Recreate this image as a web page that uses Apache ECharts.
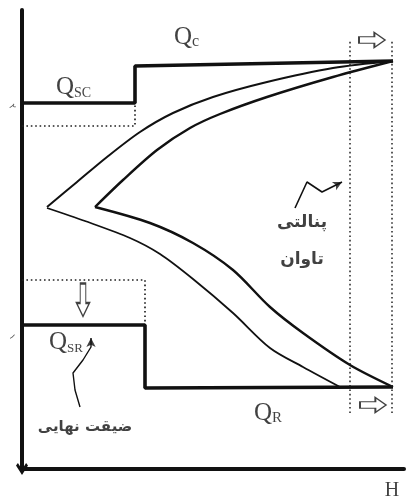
<!DOCTYPE html>
<html>
<head>
<meta charset="utf-8">
<script src="https://cdn.jsdelivr.net/npm/echarts@6/dist/echarts.min.js"></script>
<style>
  html, body { margin: 0; padding: 0; background: #fff; }
  #chart { width: 406px; height: 501px; }
</style>
</head>
<body>
<div id="chart"></div>
<script>
// Upper flow level: Q_SC up to the step, then Q_C
const capacityStep = [[0, 366], [113, 366], [113, 403], [371, 408]];
const capacityPrior = [[0, 343], [113, 343], [113, 366]];
// Lower flow level: Q_SR up to the step, then Q_R
const releaseStep = [[0, 144], [123, 144], [123, 81], [371, 82]];
const releasePrior = [[0, 189], [123, 189], [123, 147]];

// Envelope curves
const outerUpper = [[25, 262], [55, 287], [85, 312], [118, 337], [151, 356], [191, 372], [245, 387], [311, 401], [371, 408]];
const outerLower = [[25, 261], [63, 248], [108, 231], [138, 215], [171, 190], [211, 156], [248, 121], [281, 102], [318, 82]];
const innerUpper = [[73, 262], [101, 289], [135, 319], [168, 341], [198, 355], [245, 372], [311, 392], [371, 408]];
const innerLower = [[73, 262], [128, 246], [171, 226], [211, 199], [248, 162], [281, 136], [328, 104], [371, 82]];

// Penalty zone bounds along H
const zoneBounds = [328, 370];
const zoneSpan = [56, 429];

// Pointer leaders
const penaltyLeader = [[273, 261], [285, 287], [300, 277], [320, 287]];
const finalLeader = [[58, 62], [53, 79], [51, 96], [61, 109], [69, 122], [69, 131]];

// Text anchors
const flowLabels = [
  { at: [34, 382], main: 'Q', sub: 'SC', subSize: 14 },
  { at: [152, 432], main: 'Q', sub: 'c', subSize: 16 },
  { at: [27, 127], main: 'Q', sub: 'SR', subSize: 13 },
  { at: [232, 56], main: 'Q', sub: 'R', subSize: 15 }
];
const noteLabels = [
  { at: [280, 246], text: 'پنالتی', size: 17 },
  { at: [280, 209], text: 'تاوان', size: 17 },
  { at: [63, 42], text: 'ضیقت نهایی', size: 15 }
];
const axisName = { at: [370, -22], text: 'H' };
const levelMarks = [
  { at: [-10, 362], text: '۲' },
  { at: [-10, 132], text: '۱' }
];

// Hollow arrows: shift of the zone and drop of Q_SR
const shiftArrows = [[350, 429], [351, 64]];
const dropArrow = [[61, 169]];

const INK = '#111';
const blockArrow = 'path://M0,4 L13,4 L13,0 L22,7 L13,14 L13,10 L0,10 Z';

function lineSeries(data, width, extra) {
  return Object.assign({
    type: 'line', data: data, symbol: 'none', silent: true, animation: false,
    lineStyle: { color: INK, width: width }
  }, extra || {});
}

function dotted(data, width) {
  return lineSeries(data, width, { lineStyle: { color: '#222', width: width, type: [1.6, 2.8] } });
}

const chart = echarts.init(document.getElementById('chart'), null, { renderer: 'canvas' });

const series = [
  lineSeries(capacityStep, 3.6),
  lineSeries(releaseStep, 3.6),
  dotted(capacityPrior, 1.7),
  dotted(releasePrior, 1.7),
  lineSeries(outerUpper, 2, { smooth: 0.3 }),
  lineSeries(outerLower, 1.8, { smooth: 0.3 }),
  lineSeries(innerUpper, 2.4, { smooth: 0.3 }),
  lineSeries(innerLower, 2.4, { smooth: 0.3 }),
  dotted([[zoneBounds[0], zoneSpan[0]], [zoneBounds[0], zoneSpan[1]]], 1.5),
  dotted([[zoneBounds[1], zoneSpan[0]], [zoneBounds[1], zoneSpan[1]]], 1.5),
  lineSeries(penaltyLeader, 1.6),
  lineSeries(finalLeader, 1.4),
  {
    type: 'scatter', silent: true, animation: false, clip: false,
    data: [
      { value: penaltyLeader[penaltyLeader.length - 1], symbolRotate: -63 },
      { value: finalLeader[finalLeader.length - 1], symbolRotate: 0 }
    ],
    symbol: 'arrow', symbolSize: [7, 9], itemStyle: { color: INK }
  },
  {
    type: 'scatter', silent: true, animation: false, clip: false,
    data: shiftArrows, symbol: blockArrow, symbolSize: [26, 15],
    itemStyle: { color: '#fff', borderColor: INK, borderWidth: 1.5 }
  },
  {
    type: 'scatter', silent: true, animation: false, clip: false,
    data: dropArrow, symbol: blockArrow, symbolSize: [33, 13], symbolRotate: -90,
    itemStyle: { color: '#fff', borderColor: INK, borderWidth: 1.5 }
  },
  {
    type: 'scatter', silent: true, animation: false, clip: false,
    symbolSize: 0,
    data: flowLabels.map(function (d) {
      return {
        value: d.at,
        label: {
          formatter: '{q|' + d.main + '}{s|' + d.sub + '}',
          rich: {
            q: { fontFamily: 'Liberation Serif', fontSize: 25, color: INK, lineHeight: 26 },
            s: { fontFamily: 'Liberation Serif', fontSize: d.subSize, color: INK, lineHeight: 16, verticalAlign: 'bottom' }
          }
        }
      };
    }),
    label: { show: true, position: [0, 0], align: 'left', verticalAlign: 'middle' }
  },
  {
    type: 'scatter', silent: true, animation: false, clip: false,
    symbolSize: 0,
    data: noteLabels.map(function (d) {
      return { value: d.at, name: d.text, label: { fontSize: d.size } };
    }),
    label: {
      show: true, position: 'inside', formatter: '{b}',
      fontFamily: 'DejaVu Sans', fontWeight: 'bold', color: INK
    }
  },
  {
    type: 'scatter', silent: true, animation: false, clip: false,
    symbolSize: 0,
    data: [{ value: axisName.at, name: axisName.text }],
    label: {
      show: true, position: 'inside', formatter: '{b}',
      fontFamily: 'Liberation Serif', fontSize: 20, color: INK
    }
  },
  {
    type: 'scatter', silent: true, animation: false, clip: false,
    symbolSize: 0,
    data: levelMarks.map(function (d) { return { value: d.at, name: d.text }; }),
    label: {
      show: true, position: 'inside', formatter: '{b}', rotate: -60,
      fontFamily: 'DejaVu Sans', fontSize: 9, color: '#222'
    }
  }
];

chart.setOption({
  animation: false,
  backgroundColor: '#fff',
  grid: { left: 22, right: 2, top: 10, bottom: 32, containLabel: false },
  xAxis: {
    type: 'value', min: 0, max: 382,
    axisLine: { show: true, lineStyle: { color: INK, width: 4 } },
    axisTick: { show: false }, axisLabel: { show: false }, splitLine: { show: false }
  },
  yAxis: {
    type: 'value', min: 0, max: 459,
    axisLine: {
      show: true, onZero: false,
      symbol: ['path://M5,0 L10,8 L8.4,10 L5,4.6 L1.6,10 L0,8 Z', 'none'],
      symbolSize: [17, 12], symbolOffset: [0, -2],
      lineStyle: { color: INK, width: 4 }
    },
    axisTick: { show: false }, axisLabel: { show: false }, splitLine: { show: false }
  },
  series: series
});
</script>
</body>
</html>
